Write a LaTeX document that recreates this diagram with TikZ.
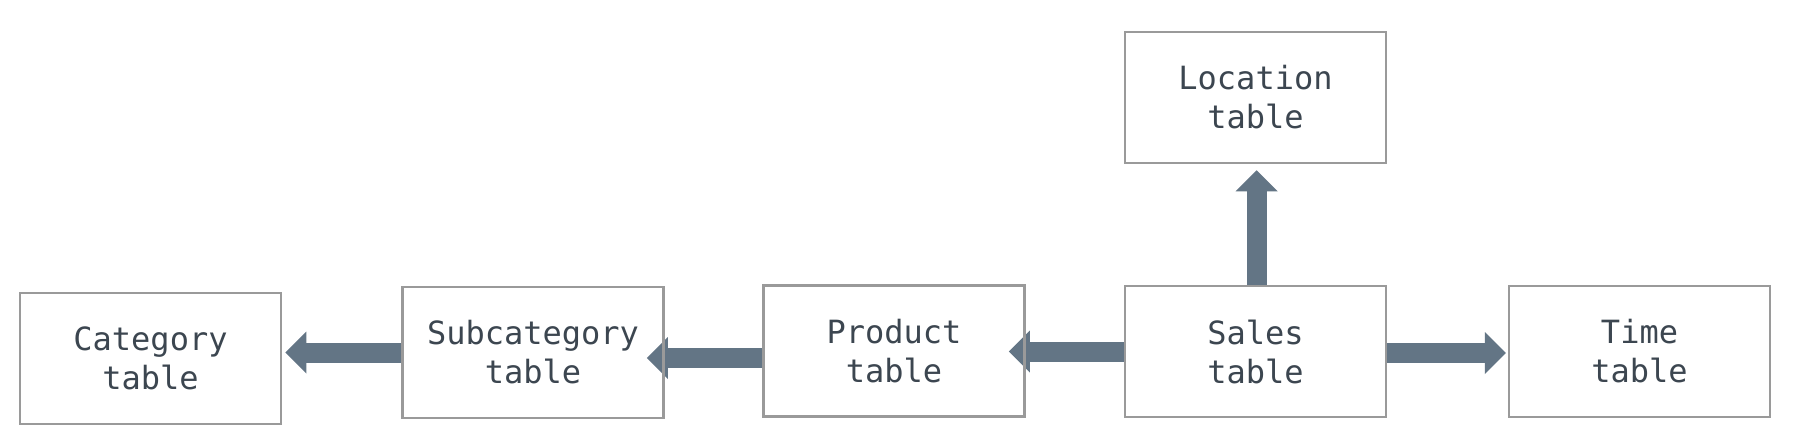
\documentclass[tikz,border=0pt]{standalone}
\usepackage{fontspec}
\setmonofont{DejaVu Sans Mono}
\usetikzlibrary{arrows.meta,calc,backgrounds}
\definecolor{boxline}{HTML}{9A9A9A}
\definecolor{txt}{HTML}{3C4650}
\definecolor{arrowc}{HTML}{637585}
\begin{document}
\begin{tikzpicture}[x=1pt,y=-1pt,
  tbl/.style={draw=boxline, line width=2.5pt, minimum width=261pt, minimum height=131pt,
    inner sep=0pt, align=center, font=\ttfamily\fontsize{32}{39}\selectfont, text=txt},
  link/.style={draw=arrowc, line width=20pt, line cap=butt,
    -{Triangle[width=42pt,length=21pt,line width=0pt]}}]
\useasboundingbox (0,0) rectangle (1797,444);
\node[tbl] (cat)   at (150.5,358.5)  {Category\\table};
\node[tbl] (sub)   at (533,352.5)    {Subcategory\\table};
\node[tbl] (prod)  at (894,351)      {Product\\table};
\node[tbl] (sales) at (1255.5,351.5) {Sales\\table};
\node[tbl] (time)  at (1639.5,351.5) {Time\\table};
\node[tbl] (loc)   at (1255.5,97.5)  {Location\\table};
\coordinate (t1) at ([xshift=3pt]cat.east);
\coordinate (t2) at ([xshift=-18pt]sub.east);
\coordinate (t3) at ([xshift=-17pt]prod.east);
\coordinate (t4) at ([xshift=-2pt]time.west);
\coordinate (t5) at ([yshift=-6pt]loc.south);
\begin{scope}[on background layer]
\fill[white] (0,0) rectangle (1797,444);
\draw[link] (sub.west) -- (sub.west -| t1);
\draw[link] (prod.west |- 0,358) -- (t2 |- 0,358);
\draw[link] (sales.west) -- (t3 |- sales.west);
\draw[link] (sales.east |- 0,353) -- (t4 |- 0,353);
\draw[link] ([xshift=1pt]sales.north) -- ([xshift=1pt]t5);
\end{scope}
\end{tikzpicture}
\end{document}
